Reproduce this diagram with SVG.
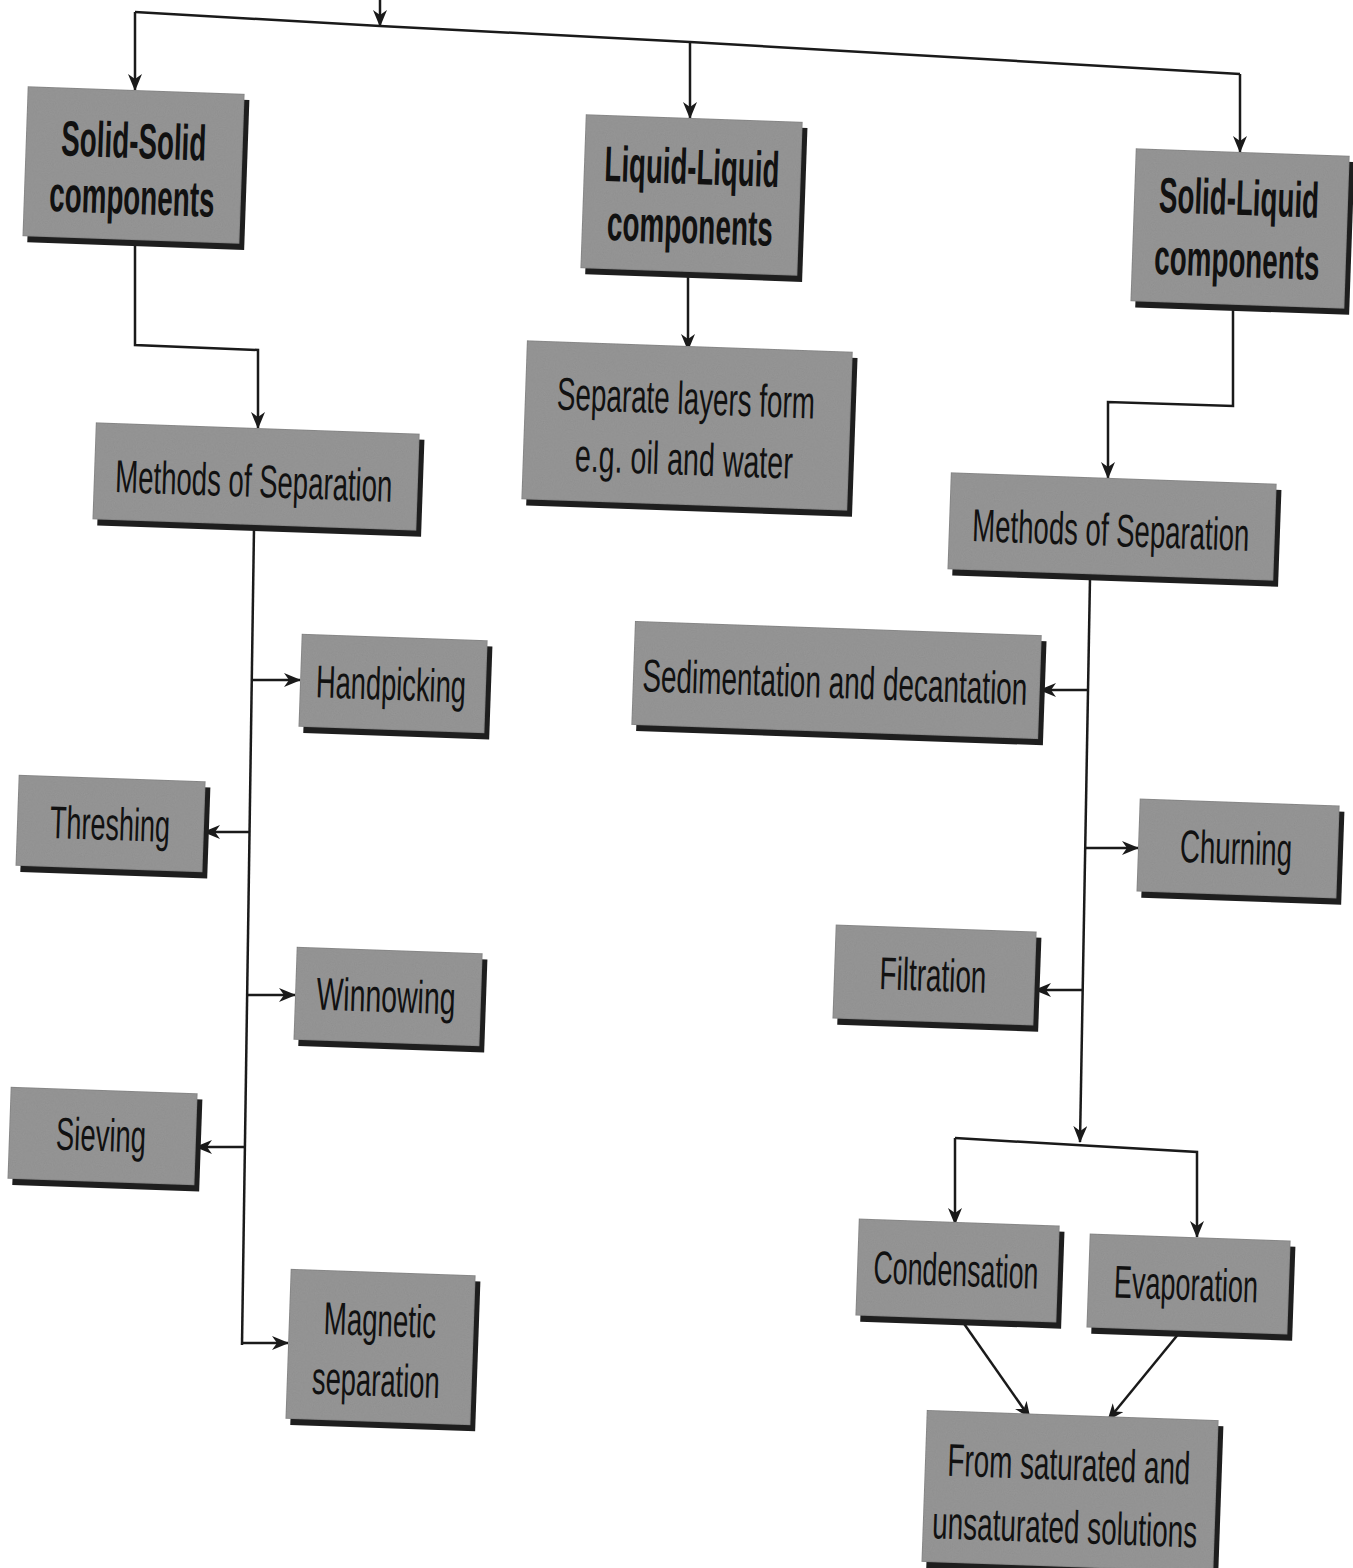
<svg xmlns="http://www.w3.org/2000/svg" width="1353" height="1568" viewBox="0 0 1353 1568">
<style>
.bg{fill:#ffffff}
.sh{fill:#1e1e1e}
.bx{fill:#8e8e8e;stroke:#6a6a6a;stroke-width:1}
.t{font-family:"Liberation Sans",Arial,sans-serif;font-size:46px;fill:#111;text-anchor:middle}
.tb{font-family:"Liberation Sans",Arial,sans-serif;font-weight:bold;font-size:50px;fill:#111;text-anchor:middle}
.c{fill:none;stroke:#1a1a1a;stroke-width:2.5}
</style>
<defs>
<marker id="ah" markerWidth="18" markerHeight="14" refX="16" refY="7" orient="auto" markerUnits="userSpaceOnUse">
<path d="M0,0 L17,7 L0,14 L5,7 Z" fill="#1a1a1a"/>
</marker>
<filter id="grain" x="0" y="0" width="100%" height="100%">
<feTurbulence type="fractalNoise" baseFrequency="0.9" numOctaves="2" seed="3" result="n"/>
<feColorMatrix in="n" type="matrix" values="0 0 0 0 0.35  0 0 0 0 0.35  0 0 0 0 0.35  0 0 0 0.55 0" result="g"/>
<feComposite in="g" in2="SourceGraphic" operator="in" result="gi"/>
<feMerge><feMergeNode in="SourceGraphic"/><feMergeNode in="gi"/></feMerge>
</filter>
</defs>
<rect class="bg" x="0" y="0" width="1353" height="1568"/>

<g id="connectors">
<path class="c" d="M380,0 L380,26" marker-end="url(#ah)"/>
<path class="c" d="M135,12 L380,26 L690,42 L1240,74"/>
<path class="c" d="M135,12 L135,90" marker-end="url(#ah)"/>
<path class="c" d="M690,42 L690,118" marker-end="url(#ah)"/>
<path class="c" d="M1240,74 L1240,152" marker-end="url(#ah)"/>
<path class="c" d="M135,243 L135,345 L258,350 L258,428" marker-end="url(#ah)"/>
<path class="c" d="M688,275 L688,350" marker-end="url(#ah)"/>
<path class="c" d="M1233,308 L1233,406 L1108,402 L1108,478" marker-end="url(#ah)"/>
<path class="c" d="M254,528 L242,1345"/>
<path class="c" d="M252,680 L300,680" marker-end="url(#ah)"/>
<path class="c" d="M250,832 L204,832" marker-end="url(#ah)"/>
<path class="c" d="M247,995 L295,995" marker-end="url(#ah)"/>
<path class="c" d="M245,1147 L196,1147" marker-end="url(#ah)"/>
<path class="c" d="M242,1343 L288,1343" marker-end="url(#ah)"/>
<path class="c" d="M1090,578 L1080,1142" marker-end="url(#ah)"/>
<path class="c" d="M1088,690 L1040,690" marker-end="url(#ah)"/>
<path class="c" d="M1085,848 L1138,848" marker-end="url(#ah)"/>
<path class="c" d="M1083,990 L1035,990" marker-end="url(#ah)"/>
<path class="c" d="M955,1138 L1197,1152 L1197,1237" marker-end="url(#ah)"/>
<path class="c" d="M955,1138 L955,1224" marker-end="url(#ah)"/>
<path class="c" d="M960,1318 L1030,1418" marker-end="url(#ah)"/>
<path class="c" d="M1180,1332 L1108,1420" marker-end="url(#ah)"/>
</g>

<g id="n1" transform="rotate(2 133 166)">
<rect class="sh" x="30" y="96" width="217" height="150"/>
<rect class="bx" x="25" y="90" width="217" height="150" filter="url(#grain)"/>
<text class="tb" transform="translate(133 158) scale(0.56 1)" textLength="259" lengthAdjust="spacingAndGlyphs">Solid-Solid</text>
<text class="tb" transform="translate(133 214) scale(0.56 1)" textLength="295" lengthAdjust="spacingAndGlyphs">components</text>
</g>
<g id="n2" transform="rotate(2 691 196)">
<rect class="sh" x="588" y="124" width="217" height="154"/>
<rect class="bx" x="583" y="118" width="217" height="154" filter="url(#grain)"/>
<text class="tb" transform="translate(691 184) scale(0.56 1)" textLength="312" lengthAdjust="spacingAndGlyphs">Liquid-Liquid</text>
<text class="tb" transform="translate(691 243) scale(0.56 1)" textLength="296" lengthAdjust="spacingAndGlyphs">components</text>
</g>
<g id="n3" transform="rotate(2 1240 230)">
<rect class="sh" x="1138" y="158" width="214" height="153"/>
<rect class="bx" x="1133" y="152" width="214" height="153" filter="url(#grain)"/>
<text class="tb" transform="translate(1238 215) scale(0.56 1)" textLength="286" lengthAdjust="spacingAndGlyphs">Solid-Liquid</text>
<text class="tb" transform="translate(1238 277) scale(0.56 1)" textLength="295" lengthAdjust="spacingAndGlyphs">components</text>
</g>
<g id="n4" transform="rotate(2 256 478)">
<rect class="sh" x="99" y="434" width="324" height="97"/>
<rect class="bx" x="94" y="428" width="324" height="97" filter="url(#grain)"/>
<text class="t" transform="translate(254 497) scale(0.6 1)" textLength="462" lengthAdjust="spacingAndGlyphs">Methods of Separation</text>
</g>
<g id="n5" transform="rotate(2 687 427)">
<rect class="sh" x="529" y="352" width="326" height="159"/>
<rect class="bx" x="524" y="346" width="326" height="159" filter="url(#grain)"/>
<text class="t" transform="translate(685 414) scale(0.6 1)" textLength="430" lengthAdjust="spacingAndGlyphs">Separate layers form</text>
<text class="t" transform="translate(685 475) scale(0.6 1)" textLength="363" lengthAdjust="spacingAndGlyphs">e.g. oil and water</text>
</g>
<g id="n6" transform="rotate(2 1112 528)">
<rect class="sh" x="954" y="484" width="326" height="97"/>
<rect class="bx" x="949" y="478" width="326" height="97" filter="url(#grain)"/>
<text class="t" transform="translate(1111 546) scale(0.6 1)" textLength="462" lengthAdjust="spacingAndGlyphs">Methods of Separation</text>
</g>
<g id="n7" transform="rotate(2 393 685)">
<rect class="sh" x="305" y="643" width="186" height="93"/>
<rect class="bx" x="300" y="637" width="186" height="93" filter="url(#grain)"/>
<text class="t" transform="translate(391 700) scale(0.6 1)" textLength="250" lengthAdjust="spacingAndGlyphs">Handpicking</text>
</g>
<g id="n8" transform="rotate(2 836 681)">
<rect class="sh" x="638" y="634" width="407" height="104"/>
<rect class="bx" x="633" y="628" width="407" height="104" filter="url(#grain)"/>
<text class="t" transform="translate(835 698) scale(0.6 1)" textLength="642" lengthAdjust="spacingAndGlyphs">Sedimentation and decantation</text>
</g>
<g id="n9" transform="rotate(2 110 825)">
<rect class="sh" x="22" y="784" width="187" height="91"/>
<rect class="bx" x="17" y="778" width="187" height="91" filter="url(#grain)"/>
<text class="t" transform="translate(110 840) scale(0.6 1)" textLength="200" lengthAdjust="spacingAndGlyphs">Threshing</text>
</g>
<g id="n10" transform="rotate(2 1238 850)">
<rect class="sh" x="1143" y="808" width="200" height="93"/>
<rect class="bx" x="1138" y="802" width="200" height="93" filter="url(#grain)"/>
<text class="t" transform="translate(1236 864) scale(0.6 1)" textLength="187" lengthAdjust="spacingAndGlyphs">Churning</text>
</g>
<g id="n11" transform="rotate(2 388 998)">
<rect class="sh" x="300" y="956" width="186" height="93"/>
<rect class="bx" x="295" y="950" width="186" height="93" filter="url(#grain)"/>
<text class="t" transform="translate(386 1012) scale(0.6 1)" textLength="232" lengthAdjust="spacingAndGlyphs">Winnowing</text>
</g>
<g id="n12" transform="rotate(2 934 976)">
<rect class="sh" x="839" y="934" width="201" height="94"/>
<rect class="bx" x="834" y="928" width="201" height="94" filter="url(#grain)"/>
<text class="t" transform="translate(933 991) scale(0.6 1)" textLength="178" lengthAdjust="spacingAndGlyphs">Filtration</text>
</g>
<g id="n13" transform="rotate(2 102 1137)">
<rect class="sh" x="14" y="1096" width="187" height="92"/>
<rect class="bx" x="9" y="1090" width="187" height="92" filter="url(#grain)"/>
<text class="t" transform="translate(101 1151) scale(0.6 1)" textLength="150" lengthAdjust="spacingAndGlyphs">Sieving</text>
</g>
<g id="n14" transform="rotate(2 380 1348)">
<rect class="sh" x="293" y="1278" width="185" height="150"/>
<rect class="bx" x="288" y="1272" width="185" height="150" filter="url(#grain)"/>
<text class="t" transform="translate(379 1336) scale(0.6 1)" textLength="187" lengthAdjust="spacingAndGlyphs">Magnetic</text>
<text class="t" transform="translate(377 1396) scale(0.6 1)" textLength="213" lengthAdjust="spacingAndGlyphs">separation</text>
</g>
<g id="n15" transform="rotate(2 957 1272)">
<rect class="sh" x="862" y="1228" width="201" height="97"/>
<rect class="bx" x="857" y="1222" width="201" height="97" filter="url(#grain)"/>
<text class="t" transform="translate(956 1286) scale(0.6 1)" textLength="275" lengthAdjust="spacingAndGlyphs">Condensation</text>
</g>
<g id="n16" transform="rotate(2 1188 1285)">
<rect class="sh" x="1093" y="1243" width="201" height="94"/>
<rect class="bx" x="1088" y="1237" width="201" height="94" filter="url(#grain)"/>
<text class="t" transform="translate(1186 1300) scale(0.6 1)" textLength="240" lengthAdjust="spacingAndGlyphs">Evaporation</text>
</g>
<g id="n17" transform="rotate(2 1070 1492)">
<rect class="sh" x="929" y="1421" width="292" height="152"/>
<rect class="bx" x="924" y="1415" width="292" height="152" filter="url(#grain)"/>
<text class="t" transform="translate(1068 1480) scale(0.6 1)" textLength="405" lengthAdjust="spacingAndGlyphs">From saturated and</text>
<text class="t" transform="translate(1066 1543) scale(0.6 1)" textLength="442" lengthAdjust="spacingAndGlyphs">unsaturated solutions</text>
</g>
</svg>
